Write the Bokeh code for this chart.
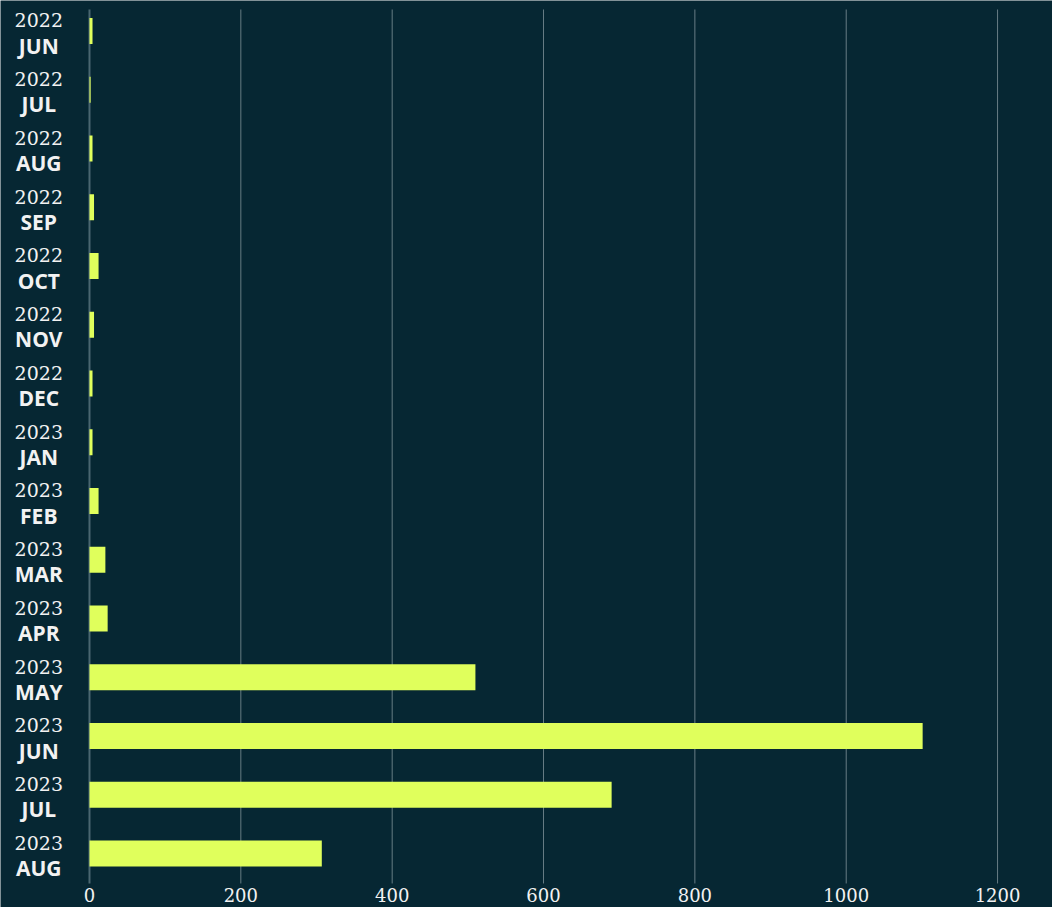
from bokeh.plotting import figure
from bokeh.models import ColumnDataSource, Range1d
from bokeh.core.properties import value
from bokeh.embed import file_html
from bokeh.resources import INLINE

# ---- data ----
years = ["2022", "2022", "2022", "2022", "2022", "2022", "2022",
         "2023", "2023", "2023", "2023", "2023", "2023", "2023", "2023"]
months = ["JUN", "JUL", "AUG", "SEP", "OCT", "NOV", "DEC",
          "JAN", "FEB", "MAR", "APR", "MAY", "JUN", "JUL", "AUG"]
counts = [4, 1.5, 4, 6, 12, 6, 4, 4, 12, 21, 24, 510, 1101, 690, 307]
x_ticks = [0, 200, 400, 600, 800, 1000, 1200]
x_tick_labels = ["0", "200", "400", "600", "800", "1000", "1200"]

BG = "#062733"
BAR = "#e0ff5c"
TXT = "#f2f2f2"

# layout (in row units; row 0 at top)
GRID_TOP, GRID_BOTTOM, TICK_ROW = -0.366, 14.51, 14.714

idx = list(range(len(months)))
src = ColumnDataSource(dict(
    y=idx, v=counts, year=years, month=months,
    y_year=[i - 0.18 for i in idx], y_month=[i + 0.25 for i in idx],
    lx=[-67] * len(idx),
))
grid_src = ColumnDataSource(dict(
    x=x_ticks[1:], y0=[GRID_TOP] * (len(x_ticks) - 1), y1=[GRID_BOTTOM] * (len(x_ticks) - 1),
))
zero_src = ColumnDataSource(dict(x=x_ticks[:1], y0=[GRID_TOP], y1=[GRID_BOTTOM]))
tick_src = ColumnDataSource(dict(x=x_ticks, y=[TICK_ROW] * len(x_ticks), t=x_tick_labels))

p = figure(width=1052, height=907, output_backend="svg", toolbar_location=None,
           x_range=Range1d(-117.6, 1272.6), y_range=Range1d(14.919, -0.519),
           min_border=0, outline_line_color=None,
           background_fill_color=BG, border_fill_color=BG)
p.xaxis.visible = False
p.yaxis.visible = False
p.grid.visible = False

p.segment(x0="x", y0="y0", x1="x", y1="y1", source=grid_src,
          line_color="#7f9298", line_width=1, line_alpha=0.8)
p.segment(x0="x", y0="y0", x1="x", y1="y1", source=zero_src,
          line_color="#4a6670", line_width=2)

p.hbar(y="y", left=0, right="v", height=0.44, source=src,
       fill_color=BAR, line_color=None)

p.text(x="lx", y="y_year", text="year", source=src,
       text_font=value("DejaVu Serif"), text_font_size="19px",
       text_color=TXT, text_align="center", text_baseline="middle")
p.text(x="lx", y="y_month", text="month", source=src,
       text_font=value("Open Sans"), text_font_size="21px", text_font_style="bold",
       text_color=TXT, text_align="center", text_baseline="middle")

p.text(x="x", y="y", text="t", source=tick_src,
       text_font=value("DejaVu Serif"), text_font_size="18px",
       text_color=TXT, text_align="center", text_baseline="middle")

open("out.html", "w").write(file_html(p, INLINE))
